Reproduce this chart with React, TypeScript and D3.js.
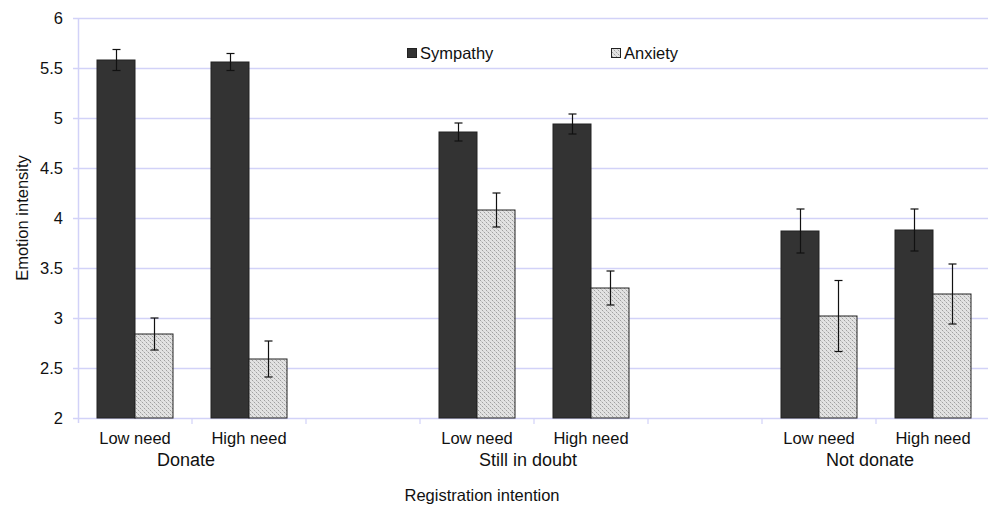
import React, { useEffect, useRef } from 'react';
import * as d3 from 'd3';

const groups = ['Donate', 'Still in doubt', 'Not donate'];
const needs = ['Low need', 'High need'];
const seriesNames = ['Sympathy', 'Anxiety'];
const sympathy = [5.58, 5.56, 4.86, 4.94, 3.87, 3.88];
const sympathyErr = [0.105, 0.085, 0.09, 0.1, 0.22, 0.21];
const anxiety = [2.84, 2.59, 4.08, 3.3, 3.02, 3.24];
const anxietyErr = [0.16, 0.18, 0.17, 0.17, 0.355, 0.3];
const yTicks = [2, 2.5, 3, 3.5, 4, 4.5, 5, 5.5, 6];

const App = () => {
  const ref = useRef<SVGSVGElement>(null);

  useEffect(() => {
    const svg = d3.select(ref.current);
    svg.selectAll('*').remove();

    const width = 988;
    const height = 509;
    const left = 78, right = 990, top = 18, bottom = 418;
    const font = 'Liberation Sans, Arial, sans-serif';

    // 8 slots: low, high, gap per group (no trailing gap)
    const slots = d3.range(8).map(String);
    const x = d3.scaleBand().domain(slots).range([left, right]);
    const inner = d3.scaleBand().domain(seriesNames).range([0, x.bandwidth()]).paddingOuter(0.5);
    const y = d3.scaleLinear().domain([2, 6]).range([bottom, top]);

    const defs = svg.append('defs');
    const pat = defs.append('pattern')
      .attr('id', 'dots').attr('width', 4).attr('height', 4)
      .attr('patternUnits', 'userSpaceOnUse');
    pat.append('rect').attr('width', 4).attr('height', 4).attr('fill', '#e2e2e2');
    pat.append('rect').attr('x', 0).attr('y', 0).attr('width', 1).attr('height', 1).attr('fill', '#a0a0a0');
    pat.append('rect').attr('x', 2).attr('y', 2).attr('width', 1).attr('height', 1).attr('fill', '#a0a0a0');
    pat.append('rect').attr('x', 1).attr('y', 1).attr('width', 1).attr('height', 1).attr('fill', '#c8c8c8');
    pat.append('rect').attr('x', 3).attr('y', 3).attr('width', 1).attr('height', 1).attr('fill', '#c8c8c8');

    const grid = '#d2d2f8';

    // gridlines
    svg.append('g').selectAll('line').data(yTicks).enter().append('line')
      .attr('x1', left - 5).attr('x2', width)
      .attr('y1', (d) => Math.round(y(d)) + 0.5).attr('y2', (d) => Math.round(y(d)) + 0.5)
      .attr('stroke', grid).attr('stroke-width', 1.5);

    // y axis line
    svg.append('line').attr('x1', left + 0.5).attr('x2', left + 0.5)
      .attr('y1', top).attr('y2', bottom + 5).attr('stroke', grid).attr('stroke-width', 1.5);

    // x tick marks at slot boundaries
    svg.append('g').selectAll('line').data(slots).enter().append('line')
      .attr('x1', (d) => x(d)! + x.bandwidth()).attr('x2', (d) => x(d)! + x.bandwidth())
      .attr('y1', bottom).attr('y2', bottom + 6).attr('stroke', grid).attr('stroke-width', 1.2);

    // y tick labels
    svg.append('g').selectAll('text').data(yTicks).enter().append('text')
      .attr('x', 63).attr('y', (d) => y(d) + 6)
      .attr('text-anchor', 'end').attr('font-family', font).attr('font-size', 16.5)
      .attr('fill', '#111').text((d) => String(d));

    const rows = groups.flatMap((g, gi) => needs.map((n, ni) => ({
      g, gi, n, slot: String(gi * 3 + ni), idx: gi * 2 + ni,
    })));

    const data = rows.flatMap((r) => [
      { ...r, s: 'Sympathy', v: sympathy[r.idx], e: sympathyErr[r.idx] },
      { ...r, s: 'Anxiety', v: anxiety[r.idx], e: anxietyErr[r.idx] },
    ]);

    svg.append('g').selectAll('rect').data(data).enter().append('rect')
      .attr('x', (d) => x(d.slot)! + inner(d.s)!)
      .attr('y', (d) => y(d.v))
      .attr('width', inner.bandwidth())
      .attr('height', (d) => y(2) - y(d.v))
      .attr('fill', (d) => (d.s === 'Sympathy' ? '#333333' : 'url(#dots)'))
      .attr('stroke', '#222').attr('stroke-width', 1);

    // error bars
    const eb = svg.append('g').attr('stroke', '#111').attr('stroke-width', 1.2);
    data.forEach((d) => {
      const cx = Math.round(x(d.slot)! + inner(d.s)! + inner.bandwidth() / 2) + 0.5;
      eb.append('line').attr('x1', cx).attr('x2', cx).attr('y1', y(d.v + d.e)).attr('y2', y(d.v - d.e));
      eb.append('line').attr('x1', cx - 4).attr('x2', cx + 4).attr('y1', y(d.v + d.e)).attr('y2', y(d.v + d.e));
      eb.append('line').attr('x1', cx - 4).attr('x2', cx + 4).attr('y1', y(d.v - d.e)).attr('y2', y(d.v - d.e));
    });

    // category labels
    svg.append('g').selectAll('text').data(rows).enter().append('text')
      .attr('x', (d) => x(d.slot)! + x.bandwidth() / 2).attr('y', 444)
      .attr('text-anchor', 'middle').attr('font-family', font).attr('font-size', 16.5)
      .attr('fill', '#111').text((d) => d.n);

    svg.append('g').selectAll('text').data(groups).enter().append('text')
      .attr('x', (d, i) => x(String(i * 3 + 1))! - 6).attr('y', 466)
      .attr('text-anchor', 'middle').attr('font-family', font).attr('font-size', 18)
      .attr('fill', '#111').text((d) => d);

    svg.append('text').attr('x', 482).attr('y', 501)
      .attr('text-anchor', 'middle').attr('font-family', font).attr('font-size', 16.5)
      .attr('fill', '#111').text('Registration intention');

    svg.append('text').attr('transform', `translate(28,${(top + bottom) / 2}) rotate(-90)`)
      .attr('text-anchor', 'middle').attr('font-family', font).attr('font-size', 16.5)
      .attr('fill', '#111').text('Emotion intensity');

    // legend
    const legendX = [407, 611];
    const lg = svg.append('g');
    seriesNames.forEach((s, i) => {
      lg.append('rect').attr('x', legendX[i] + 0.5).attr('y', 48.5).attr('width', 9).attr('height', 9)
        .attr('fill', s === 'Sympathy' ? '#333333' : 'url(#dots)').attr('stroke', '#222');
      lg.append('text').attr('x', legendX[i] + 13).attr('y', 59)
        .attr('font-family', font).attr('font-size', 16.5).attr('fill', '#111').text(s);
    });

    svg.attr('width', width).attr('height', height);
  }, []);

  return <svg ref={ref} width={988} height={509} style={{ position: 'absolute', left: 0, top: 0 }} />;
};

export default App;
